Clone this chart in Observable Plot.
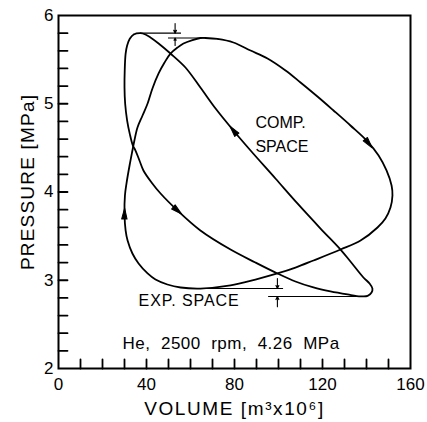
<!DOCTYPE html>
<html><head><meta charset="utf-8">
<script src="https://cdn.jsdelivr.net/npm/d3@7"></script>
<script src="https://cdn.jsdelivr.net/npm/@observablehq/plot@0.6"></script>
<style>
body{margin:0;background:#fff;}
#chart svg{font-family:"Liberation Sans",Arial,sans-serif;background:#fff;}
#chart svg text{white-space:pre;}
</style></head><body><div id="chart"></div>
<script>
// Axis ticks
const xTickLabels = [0, 40, 80, 120, 160];
const yTickLabels = [2, 3, 4, 5, 6];
const xMinorTicks = [10, 20, 30, 40, 50, 60, 70, 80, 90, 100, 110, 120, 130, 140, 150];
const yMinorTicks = [2.2, 2.4, 2.6, 2.8, 3, 3.2, 3.4, 3.6, 3.8, 4, 4.2, 4.4, 4.6, 4.8, 5, 5.2, 5.4, 5.6, 5.8];

// Loop A (peak 5.80 MPa, narrow diagonal loop)
const aVolume = [37.3, 34.2, 32.4, 31.2, 30.5, 30.1, 30.0, 30.3, 31.2, 32.4, 33.8, 35.0, 36.8, 38.6, 42.3, 46.4, 54.1, 64.5, 78.2, 89.5, 99.5, 107.7, 115.9, 123.6, 131.4, 137.3, 140.5, 142.3, 142.7, 141.4, 138.6, 132.7, 128.2, 119.1, 108.6, 98.6, 87.3, 79.5, 71.4, 64.5, 57.7, 50.9, 45.5, 41.8, 39.5];
const aPressure = [5.80, 5.785, 5.736, 5.66, 5.566, 5.377, 5.188, 5.0, 4.81, 4.659, 4.527, 4.47, 4.357, 4.244, 4.108, 3.983, 3.79, 3.564, 3.348, 3.201, 3.077, 2.986, 2.918, 2.873, 2.839, 2.818, 2.822, 2.861, 2.906, 2.963, 3.031, 3.212, 3.348, 3.586, 3.87, 4.153, 4.47, 4.697, 4.946, 5.184, 5.411, 5.569, 5.683, 5.751, 5.785];

// Loop B (peak 5.745 MPa, large loop)
const bVolume = [66.8, 72.3, 79.5, 87.3, 95.0, 103.2, 110.0, 117.7, 125.0, 132.7, 140.5, 145.5, 149.1, 151.4, 151.8, 150.9, 148.6, 145.0, 137.3, 128.2, 115.9, 107.7, 99.5, 89.5, 78.2, 64.5, 55.5, 49.5, 44.1, 40.5, 36.4, 33.6, 31.4, 30.5, 30.0, 30.2, 30.9, 32.3, 33.6, 34.5, 35.9, 38.2, 40.5, 42.7, 45.5, 48.2, 50.9, 54.1, 56.8, 60.9, 64.5];
const bPressure = [5.745, 5.734, 5.694, 5.603, 5.513, 5.377, 5.241, 5.082, 4.924, 4.754, 4.572, 4.414, 4.244, 4.074, 3.96, 3.824, 3.70, 3.598, 3.45, 3.348, 3.224, 3.144, 3.077, 3.008, 2.941, 2.906, 2.918, 2.952, 3.008, 3.077, 3.19, 3.303, 3.45, 3.564, 3.756, 3.96, 4.096, 4.30, 4.47, 4.584, 4.731, 4.867, 5.003, 5.173, 5.343, 5.467, 5.569, 5.637, 5.683, 5.722, 5.745];

// Direction arrows on the loops
const arrowVolume = [54.1, 79.5, 141.0, 30.0];
const arrowPressure = [3.79, 4.697, 4.55, 3.756];
const arrowDV = [10.4, -8.1, 5.0, 0.2];
const arrowDP = [-0.226, 0.249, -0.158, 0.204];

// Pressure difference markers
const peakLevels = [5.80, 5.745];
const peakFrom = [37.3, 50.0];
const peakTo = [55.9, 66.8];
const peakMarkV = 53.0;
const peakMarkOuter = [5.91, 5.66];
const lowLevels = [2.906, 2.816];
const lowFrom = [64.5, 95.5];
const lowTo = [102.3, 137.0];
const lowMarkV = 99.5;
const lowMarkOuter = [3.02, 2.70];

const W = 427, H = 422, mL = 58, mR = 17, mT = 15, mB = 54;
const kx = (W - mL - mR) / 160, ky = (H - mT - mB) / 4;

const loopA = aVolume.map((v, i) => ({v, p: aPressure[i]}));
const loopB = bVolume.map((v, i) => ({v, p: bPressure[i]}));
const arrows = arrowVolume.map((v, i) => ({v, p: arrowPressure[i],
  rot: Math.atan2(arrowDV[i] * kx, arrowDP[i] * ky) * 180 / Math.PI}));
const hLines = [
  ...peakLevels.map((p, i) => ({p, x1: peakFrom[i], x2: peakTo[i]})),
  ...lowLevels.map((p, i) => ({p, x1: lowFrom[i], x2: lowTo[i]}))
];
const marks = [
  ...peakLevels.map((p, i) => ({v: peakMarkV, from: peakMarkOuter[i], to: p})),
  ...lowLevels.map((p, i) => ({v: lowMarkV, from: lowMarkOuter[i], to: p}))
];

const headShape = {draw(c, l, r) { c.moveTo(0, -l); c.lineTo(r, 0); c.lineTo(-r, 0); c.closePath(); }};

const chart = Plot.plot({
  width: W, height: H,
  marginLeft: mL, marginRight: mR, marginTop: mT, marginBottom: mB,
  style: {background: "#fff", color: "#000"},
  x: {domain: [0, 160]},
  y: {domain: [2, 6]},
  marks: [
    Plot.frame({strokeWidth: 2}),
    Plot.axisX(xTickLabels, {tickSize: 0, tickPadding: 9, fontSize: 17, label: null, tickFormat: d => String(d)}),
    Plot.axisY(yTickLabels, {tickSize: 0, tickPadding: 5, fontSize: 17, label: null, tickFormat: d => String(d)}),
    Plot.vector(xMinorTicks, {x: d => d, frameAnchor: "bottom", length: 9, r: 0, rotate: 0, anchor: "start", strokeWidth: 1.8}),
    Plot.vector(yMinorTicks, {y: d => d, frameAnchor: "left", length: 9, r: 0, rotate: 90, anchor: "start", strokeWidth: 1.8}),
    Plot.line(loopA, {x: "v", y: "p", curve: "catmull-rom-closed", strokeWidth: 1.8}),
    Plot.line(loopB, {x: "v", y: "p", curve: "catmull-rom-closed", strokeWidth: 1.8}),
    Plot.vector(arrows, {x: "v", y: "p", rotate: "rot", length: 11, r: 2.7, anchor: "middle", shape: headShape, fill: "#000", stroke: "#000", strokeWidth: 1}),
    Plot.ruleY(hLines, {y: "p", x1: "x1", x2: "x2", strokeWidth: 1.1}),
    Plot.arrow(marks, {x1: "v", x2: "v", y1: "from", y2: "to", headLength: 5, headAngle: 50, strokeWidth: 1.1}),
    Plot.text(["COMP.\nSPACE"], {x: () => 89.5, y: () => 4.675, textAnchor: "start", fontSize: 16, lineHeight: 1.5}),
    Plot.text(["EXP. SPACE"], {x: () => 36.4, y: () => 2.77, textAnchor: "start", fontSize: 16}),
    Plot.text(["He,  2500  rpm,  4.26  MPa"], {x: () => 29.1, y: () => 2.28, textAnchor: "start", fontSize: 17}),
    Plot.text(["VOLUME [m³x10⁶]"], {frameAnchor: "bottom", dy: 40, fontSize: 19, textAnchor: "middle", lineAnchor: "middle"}),
    Plot.text(["PRESSURE [MPa]"], {frameAnchor: "left", rotate: -90, dx: -31, dy: -10, fontSize: 19, textAnchor: "middle", lineAnchor: "middle"})
  ]
});
// letter spacing to match the wide plotter lettering
const spacing = {"EXP. SPACE": "0.9px", "He,  2500  rpm,  4.26  MPa": "0.5px", "VOLUME [m³x10⁶]": "1.6px", "PRESSURE [MPa]": "1.2px"};
d3.select(chart).selectAll("text").each(function() {
  const s = spacing[this.textContent];
  if (s) this.style.letterSpacing = s;
});
document.getElementById("chart").appendChild(chart);
</script>
</body></html>
